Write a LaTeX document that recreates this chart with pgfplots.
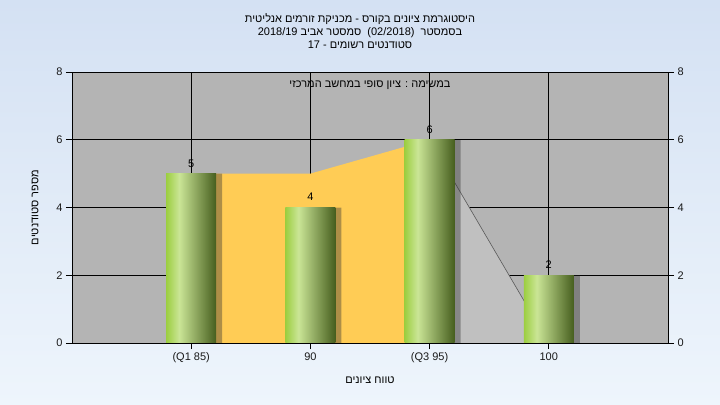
\documentclass[border=0pt]{standalone}
\usepackage{fontspec}
\setmainfont{Liberation Sans}
\newfontfamily\hebfont[Script=Hebrew]{Liberation Sans}
\usepackage{pgfplots}
\pgfplotsset{compat=1.18}
\TeXXeTstate=1

\definecolor{bgtop}{RGB}{212,225,243}
\definecolor{bgbot}{RGB}{238,245,252}
\definecolor{plotbg}{RGB}{180,180,180}
\definecolor{qarea}{RGB}{255,204,85}
\definecolor{tailarea}{RGB}{192,192,192}
\definecolor{barA}{RGB}{156,206,64}
\definecolor{barB}{RGB}{202,229,150}
\definecolor{barC}{RGB}{70,94,30}
\pgfdeclarehorizontalshading{barshade}{100bp}{color(0bp)=(barA); color(25bp)=(barA); color(38bp)=(barB); color(75bp)=(barC); color(100bp)=(barC)}

\newcommand{\lbl}{\fontsize{11bp}{13bp}\selectfont}

\begin{document}
\begin{tikzpicture}
  \shade[top color=bgtop, bottom color=bgbot] (0,0) rectangle (720bp,405bp);

  \begin{axis}[
      at={(72bp,62bp)}, anchor=south west,
      scale only axis, width=596bp, height=271bp,
      xmin=-1, xmax=4, ymin=0, ymax=8,
      xtick={0,1,2,3},
      xticklabels={(Q1 85),90,(Q3 95),100},
      ytick={0,2,4,6,8},
      ytick pos=left, xtick pos=bottom,
      tick align=outside, major tick length=6bp,
      grid=major,
      major grid style={black, line width=0.75bp},
      axis line style={black, line width=0.75bp},
      tick style={black, line width=0.75bp},
      axis background/.style={fill=plotbg},
      ticklabel style={font=\lbl, text=black!90},
      /pgf/number format/assume math mode=true,
      xlabel={\hebfont\beginR טווח ציונים\endR},
      ylabel={\hebfont\beginR מספר סטודנטים\endR},
      label style={font=\lbl},
      xlabel style={at={(axis description cs:0.5,0)}, anchor=center, yshift=-37bp},
      ylabel style={at={(axis description cs:0,0.5)}, anchor=center, yshift=37bp},
      mybar/.style={ybar, bar width=50bp, draw=none, shading=barshade},
    ]
    % quartile area and tail
    \addplot[fill=qarea, draw=none] coordinates {(0,5) (1,5) (2,6)} \closedcycle;
    \addplot[fill=tailarea, draw=none] coordinates {(2,6) (3,0)} \closedcycle;
    \addplot[black!65, line width=0.6bp] coordinates {(2,6) (3,0)};
    % bar shadows
    \addplot[ybar, bar width=50bp, bar shift=6bp, draw=none, fill=black!80, fill opacity=0.4]
    coordinates {(0,5) (1,4) (2,6) (3,2)};
    % bars, one plot each so each gets its own shading
    \addplot[mybar] coordinates {(0,5)};
    \addplot[mybar] coordinates {(1,4)};
    \addplot[mybar] coordinates {(2,6)};
    \addplot[mybar] coordinates {(3,2)};
    % value labels
    \addplot[draw=none, mark=none, nodes near coords,
      nodes near coords style={font=\lbl, text=black, anchor=south, yshift=3bp}]
    coordinates {(0,5) (1,4) (2,6) (3,2)};
    \draw[black, line width=0.75bp] (axis cs:-1,0) -- (axis cs:4,0);
  \end{axis}

  \begin{axis}[
      at={(72bp,62bp)}, anchor=south west,
      scale only axis, width=596bp, height=271bp,
      xmin=-1, xmax=4, ymin=0, ymax=8,
      axis x line=none, axis y line*=right,
      ytick={0,2,4,6,8},
      tick align=outside, major tick length=6bp,
      axis line style={black, line width=0.75bp},
      tick style={black, line width=0.75bp},
      ticklabel style={font=\lbl, text=black!90},
      /pgf/number format/assume math mode=true,
    ]
    \addplot[draw=none] coordinates {(0,0)};
  \end{axis}

  \node[align=center, font=\lbl\hebfont] at (360bp,374bp)
  {\beginR היסטוגרמת ציונים בקורס - מכניקת זורמים אנליטית\endR\\
   \beginR בסמסטר\ \ \beginL(02/2018)\endL\ \ סמסטר אביב \beginL2018/19\endL\endR\\
   \beginR סטודנטים רשומים - \beginL17\endL\endR};
  \node[font=\lbl\hebfont] at (370bp,320bp) {\beginR במשימה : ציון סופי במחשב המרכזי\endR};
\end{tikzpicture}
\end{document}
